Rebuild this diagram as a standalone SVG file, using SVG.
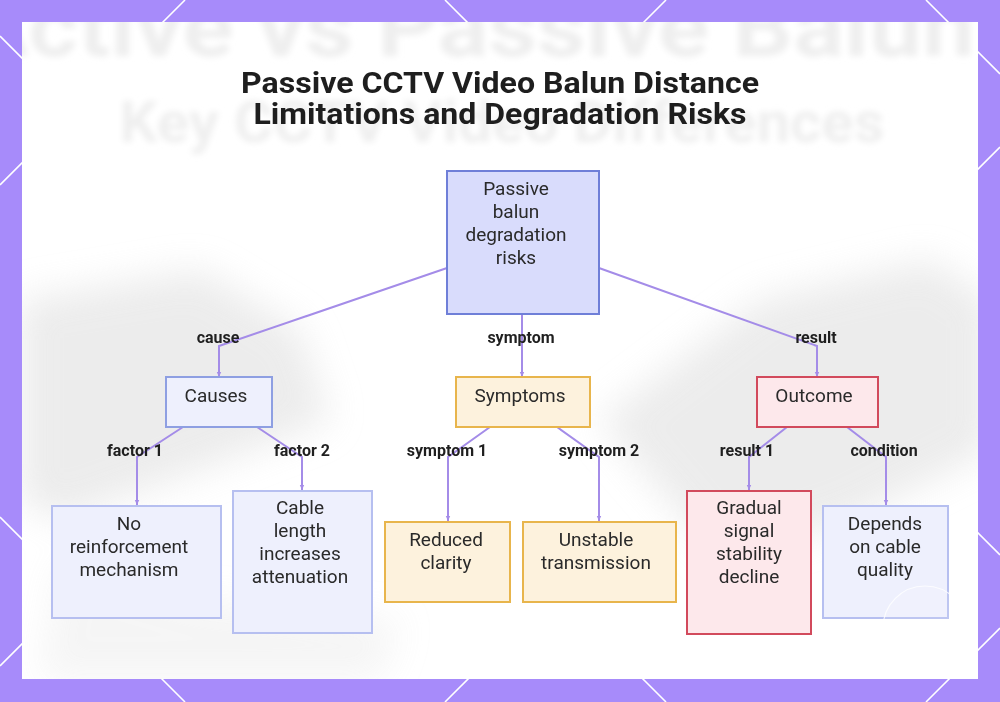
<svg xmlns="http://www.w3.org/2000/svg" width="1000" height="702" viewBox="0 0 1000 702">
<defs>
<style>
.nt{font-family:Roboto,"Liberation Sans",sans-serif;font-size:19px;fill:#2a2a2a;text-anchor:middle}
.el{font-family:Roboto,"Liberation Sans",sans-serif;font-size:16px;font-weight:700;fill:#1f1f1f;text-anchor:middle}
.edge{fill:none;stroke:#a48ce8;stroke-width:2;marker-end:url(#ah)}
.blue{fill:#eef0fd;stroke:#b6bff0;stroke-width:2}
.blue2{fill:#eef0fd;stroke:#8e9fe2;stroke-width:2}
.org{fill:#fdf2dd;stroke:#e8b54c;stroke-width:2}
.red{fill:#fde8eb;stroke:#d24a5c;stroke-width:2}
.bg{stroke:#ffffff;stroke-width:1.6}
</style>
<marker id="ah" markerWidth="6" markerHeight="6" refX="5" refY="3" orient="auto" markerUnits="userSpaceOnUse">
<path d="M0,0.8 L5,3 L0,5.2 z" fill="#a48ce8"/>
</marker>
<clipPath id="pc"><rect x="22" y="22" width="956" height="657"/></clipPath>
<filter id="bl" x="-20%" y="-20%" width="140%" height="140%"><feGaussianBlur stdDeviation="3"/></filter>
<filter id="bl2" x="-50%" y="-50%" width="200%" height="200%"><feGaussianBlur stdDeviation="18"/></filter>
</defs>
<rect x="0" y="0" width="1000" height="702" fill="#a78bfa"/>
<g id="pattern">
<line class="bg" x1="0" y1="185" x2="185" y2="0"/>
<line class="bg" x1="0" y1="666" x2="666" y2="0"/>
<line class="bg" x1="445" y1="702" x2="1000" y2="147"/>
<line class="bg" x1="926" y1="702" x2="1000" y2="628"/>
<line class="bg" x1="0" y1="36" x2="666" y2="702"/>
<line class="bg" x1="0" y1="517" x2="185" y2="702"/>
<line class="bg" x1="445" y1="0" x2="1000" y2="555"/>
<line class="bg" x1="926" y1="0" x2="1000" y2="74"/>
</g>
<rect x="22" y="22" width="956" height="657" fill="#ffffff"/>
<g id="backdrop" clip-path="url(#pc)">
<g filter="url(#bl2)" fill="#e4e4e4" opacity="0.7">
<path d="M20,300 L200,270 L300,330 L330,420 L200,470 L60,520 L20,500 z"/>
<path d="M600,420 L760,300 L930,260 L990,300 L990,450 L850,520 L720,560 z"/>
<path d="M60,560 L200,600 L400,620 L380,679 L40,679 z" opacity="0.5"/>
</g>
<g filter="url(#bl)" fill="#efefef" font-family="Roboto,'Liberation Sans',sans-serif" font-weight="700" text-anchor="middle">
<text x="470" y="56" font-size="84" textLength="1010" lengthAdjust="spacingAndGlyphs">Active vs Passive Balun</text>
<text x="502" y="142" font-size="58" textLength="765" lengthAdjust="spacingAndGlyphs">Key CCTV Video Differences</text>
</g>
</g>
<g id="title" font-family="Roboto,'Liberation Sans',sans-serif" font-weight="700" font-size="29.5" fill="#1e1e1e" text-anchor="middle">
<text x="500" y="93" textLength="518" lengthAdjust="spacingAndGlyphs">Passive CCTV Video Balun Distance</text>
<text x="500" y="124" textLength="493" lengthAdjust="spacingAndGlyphs">Limitations and Degradation Risks</text>
</g>
<g id="connectors">
<polyline class="edge" points="447,268 219,346 219,377"/>
<polyline class="edge" points="522,314 522,377"/>
<polyline class="edge" points="599,268 817,346 817,377"/>
<polyline class="edge" points="183,427 137,457 137,505"/>
<polyline class="edge" points="257,427 302,457 302,490"/>
<polyline class="edge" points="490,427 448,457 448,521"/>
<polyline class="edge" points="557,427 599,457 599,521"/>
<polyline class="edge" points="787,427 749,457 749,490"/>
<polyline class="edge" points="847,427 886,457 886,505"/>
<text class="el" x="218" y="343">cause</text>
<text class="el" x="521" y="343">symptom</text>
<text class="el" x="816" y="343">result</text>
<text class="el" x="135" y="456">factor 1</text>
<text class="el" x="302" y="456">factor 2</text>
<text class="el" x="447" y="456">symptom 1</text>
<text class="el" x="599" y="456">symptom 2</text>
<text class="el" x="747" y="456">result 1</text>
<text class="el" x="884" y="456">condition</text>
</g>
<g id="root">
<rect x="447" y="171" width="152" height="143" fill="#d9dcfc" stroke="#6f7fd8" stroke-width="2"/>
<text class="nt" x="516" y="195">Passive</text>
<text class="nt" x="516" y="218">balun</text>
<text class="nt" x="516" y="241">degradation</text>
<text class="nt" x="516" y="264">risks</text>
</g>
<g id="causes">
<rect class="blue2" x="166" y="377" width="106" height="50"/>
<text class="nt" x="216" y="402">Causes</text>
</g>
<g id="symptoms">
<rect class="org" x="456" y="377" width="134" height="50"/>
<text class="nt" x="520" y="402">Symptoms</text>
</g>
<g id="outcome">
<rect class="red" x="757" y="377" width="121" height="50"/>
<text class="nt" x="814" y="402">Outcome</text>
</g>
<g id="noReinforcement">
<rect class="blue" x="52" y="506" width="169" height="112"/>
<text class="nt" x="129" y="530">No</text>
<text class="nt" x="129" y="553">reinforcement</text>
<text class="nt" x="129" y="576">mechanism</text>
</g>
<g id="cableLength">
<rect class="blue" x="233" y="491" width="139" height="142"/>
<text class="nt" x="300" y="514">Cable</text>
<text class="nt" x="300" y="537">length</text>
<text class="nt" x="300" y="560">increases</text>
<text class="nt" x="300" y="583">attenuation</text>
</g>
<g id="reducedClarity">
<rect class="org" x="385" y="522" width="125" height="80"/>
<text class="nt" x="446" y="546">Reduced</text>
<text class="nt" x="446" y="569">clarity</text>
</g>
<g id="unstableTransmission">
<rect class="org" x="523" y="522" width="153" height="80"/>
<text class="nt" x="596" y="546">Unstable</text>
<text class="nt" x="596" y="569">transmission</text>
</g>
<g id="gradualDecline">
<rect class="red" x="687" y="491" width="124" height="143"/>
<text class="nt" x="749" y="514">Gradual</text>
<text class="nt" x="749" y="537">signal</text>
<text class="nt" x="749" y="560">stability</text>
<text class="nt" x="749" y="583">decline</text>
</g>
<g id="dependsQuality">
<rect class="blue" x="823" y="506" width="125" height="112"/>
<text class="nt" x="885" y="530">Depends</text>
<text class="nt" x="885" y="553">on cable</text>
<text class="nt" x="885" y="576">quality</text>
</g>
<circle cx="925" cy="628" r="42" fill="#ffffff" fill-opacity="0.15" stroke="#ffffff" stroke-width="1.2" opacity="0.8"/>
</svg>
